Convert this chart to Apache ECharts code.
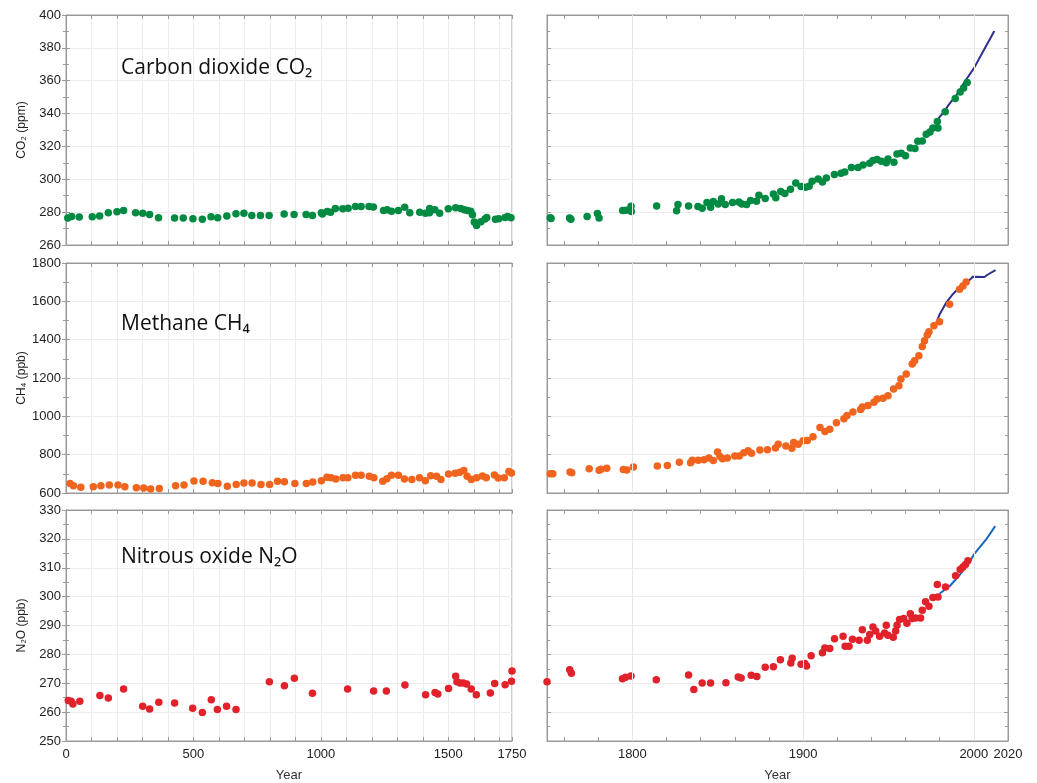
<!DOCTYPE html>
<html>
<head>
<meta charset="utf-8">
<script src="https://cdn.jsdelivr.net/npm/echarts@6/dist/echarts.min.js"></script>
<style>
html, body { margin: 0; padding: 0; background: #fff; }
#chart { width: 1037px; height: 783px; }
</style>
</head>
<body>
<div id="chart"></div>
<script>
// ice core / firn samples, year 0 - 1750  [year, value]
var co2Early = [[7,276.4],[22,277.4],[52,277],[103,277.2],[132,277.6],[166,279.6],[200,280.2],[226,281],
  [273,279.6],[301,279.4],[328,278.6],[363,276.6],[426,276.4],[460,276.4],[498,276],[535,275.6],[569,277.2],
  [595,276.6],[631,277.6],[667,279],[698,279.4],[729,278],[763,278],[797,278],[856,278.8],[895,278.6],
  [942,278.6],[967,278],[1002,279.6],[1006,278.8],[1025,280.4],[1038,280],[1057,282.2],[1086,282],
  [1107,282.4],[1136,283.4],[1158,283.4],[1189,283.4],[1206,283.2],[1246,281],[1260,281.4],[1277,280.6],
  [1304,281],[1329,283],[1349,279.6],[1388,280],[1410,279.4],[1426,279.6],[1427,282.2],[1447,281.4],
  [1466,279.4],[1500,282],[1529,282.6],[1549,282.2],[1563,281.4],[1575,281],[1588,280.6],[1595,278.4],
  [1602,274],[1611,271.8],[1628,274.2],[1644,275.8],[1651,276.8],[1685,275.6],[1698,276],[1723,276.8],
  [1733,277.4],[1746,276.6]];
var co2Late = [[1751.9,276.6],[1752.4,276.2],[1763.2,276.4],[1764,275.7],[1773.5,277.4],[1779.5,279.2],
  [1780.5,276.4],[1794.3,281],[1796.3,281.2],[1799.2,283.6],[1799.4,280.4],[1814.2,283.8],[1825.9,280.8],
  [1826.7,284.7],[1832.9,283.8],[1838.4,283.4],[1840.9,282.4],[1843.7,285.9],[1845.8,283],[1847.4,286.5],
  [1850.3,285],[1852.2,288.1],[1854.4,284.7],[1858.7,285.9],[1862.4,286.1],[1864.1,285],[1866.9,284.7],
  [1869.2,287.1],[1872.7,286.7],[1874.1,290.3],[1877.8,288.3],[1882.6,291.1],[1884,288.7],[1886.9,292.6],
  [1889.3,291.3],[1892.6,294],[1895.7,297.8],[1898.8,295.6],[1901.4,295.2],[1903.5,295.8],[1905.3,298.8],
  [1908.8,300.2],[1911.3,298.4],[1913.6,300.8],[1918.3,302.9],[1922.2,303.7],[1924.4,304.5],[1928.3,307.1],
  [1932.2,307.1],[1935.1,308.7],[1939,309.8],[1940.9,311.4],[1943.3,312],[1945.8,311],[1948.7,310],
  [1949.7,312.4],[1953.2,310.4],[1955,315.4],[1957.5,315.8],[1960,314.4],[1962.8,319],[1965.5,318.8],
  [1967.2,323.1],[1969.8,323.3],[1972.1,327.4],[1974.3,328.8],[1976,331.2],[1978.6,335.1],[1979,331.2],
  [1983.2,341.1],[1989.1,349.2],[1992,353.1],[1994,355.5],[1996.1,358.9]];
var co2Direct = [[1978,334.5],[1980,338],[1983,341.7],[1985,345],[1990,351.5],[1995,360],[2000,367.5],
  [2005,377],[2010,386.5],[2012,390.3]];

var ch4Early = [[16,650],[29,638],[58,630],[107,633],[137,638],[170,642],[204,642],[231,633],[276,628],
  [305,626],[332,621],[366,623],[430,638],[463,642],[502,663],[538,661],[574,654],[596,649],[633,635],
  [668,645],[698,652],[730,652],[765,645],[799,645],[830,661],[857,659],[898,650],[943,650],[968,657],
  [1002,664],[1024,682],[1040,680],[1059,673],[1087,680],[1106,680],[1136,692],[1158,692],[1190,687],
  [1208,680],[1243,661],[1259,675],[1277,692],[1304,692],[1328,673],[1357,670],[1387,680],[1410,664],
  [1431,690],[1454,687],[1471,671],[1501,699],[1527,703],[1545,708],[1561,717],[1574,687],[1590,671],
  [1611,680],[1634,689],[1649,680],[1681,694],[1696,678],[1720,680],[1738,712],[1748,705]];
var ch4Late = [[1751.9,700],[1753.4,701],[1763.5,710],[1764.5,706],[1774.7,726],[1780.5,719],[1781.7,724],
  [1785,729],[1794.7,722],[1796.7,720],[1800.6,736],[1814.6,741],[1820.5,743],[1827.5,760],[1834.1,758],
  [1835.1,771],[1838.6,771],[1841.9,774],[1844.8,783],[1847.4,769],[1849.9,814],[1851.3,791],[1852.8,779],
  [1855.6,783],[1860,793],[1862.6,793],[1865.3,810],[1867.8,821],[1869.8,807],[1874.7,824],[1879.1,826],
  [1883.8,835],[1885.4,855],[1889.9,845],[1893.4,833],[1894.5,864],[1897.1,855],[1900,873],[1902.5,874],
  [1905.8,894],[1909.9,942],[1912.8,921],[1915.6,932],[1919.5,966],[1923.9,987],[1925.7,1004],[1929.2,1022],
  [1933.7,1036],[1934.7,1049],[1938,1056],[1941.5,1074],[1943.3,1091],[1946.8,1094],[1949.7,1108],
  [1953,1143],[1956.1,1160],[1957.3,1195],[1960.4,1221],[1963.9,1273],[1965.3,1290],[1967.8,1316],
  [1969.8,1365],[1971.1,1394],[1972.7,1424],[1973.7,1441],[1976.6,1472],[1979.9,1493],[1985.8,1585],
  [1991.6,1663],[1993.6,1680],[1995.5,1701]];
var ch4Direct = [[1978,1489],[1980,1533],[1983.8,1593],[1987.7,1637],[1992.6,1683],[1997.5,1711],
  [1999.4,1728],[2006.2,1727],[2008.2,1740],[2012.7,1763]];

var n2oEarly = [[9,264],[20,263.8],[27,262.8],[54,263.8],[133,265.8],[166,264.9],[226,268],[301,262],
  [328,261.1],[364,263.4],[426,263.2],[497,261.3],[535,259.9],[570,264.3],[594,260.9],[630,262],
  [667,260.9],[798,270.5],[857,269.1],[896,271.7],[967,266.5],[1105,268],[1207,267.3],[1257,267.3],
  [1330,269.4],[1411,266],[1448,266.8],[1459,266.3],[1501,268.2],[1529,272.4],[1534,270.5],[1546,270.1],
  [1559,270.1],[1572,269.7],[1590,268],[1610,266],[1665,266.6],[1682,269.9],[1723,269.5],[1748,270.7],
  [1750,274.2]];
var n2oLate = [[1750,270.5],[1763.3,274.7],[1764.3,273.5],[1794.2,271.6],[1796.1,272.1],[1799.2,272.5],
  [1814,271.2],[1832.9,272.9],[1836,267.8],[1840.9,270.1],[1845.8,270.1],[1854.8,270.2],[1862,272.2],
  [1863.7,271.8],[1869.6,272.8],[1872.9,272.3],[1877.8,275.5],[1882.6,275.7],[1886.7,278.1],[1892.8,277],
  [1893.6,278.7],[1898.8,276.6],[1901,276.8],[1902,276],[1904.7,279.5],[1911.3,280.6],[1912.7,282.2],
  [1915.6,282],[1918.4,285.4],[1923.4,286.3],[1924.6,282.8],[1926.9,282.8],[1928.9,285.2],[1932.8,284.9],
  [1934.7,288.5],[1937.6,284.9],[1939,286.9],[1940.9,289.5],[1942.5,288.1],[1944.8,286.3],[1947.7,287.4],
  [1948.7,290.1],[1949.7,286.6],[1952.8,285.9],[1954.2,288.1],[1955,290.1],[1956.5,292.1],[1958.9,292.4],
  [1960.8,290.8],[1962.8,294.1],[1963.9,292.4],[1965.9,292.6],[1968.8,292.6],[1969.8,295.3],[1971.7,298.2],
  [1973.7,296.7],[1976,299.7],[1978.6,304.2],[1979,299.9],[1983.4,303.3],[1989.3,307.2],[1992,309.4],
  [1993.6,310.3],[1995.1,311.1],[1996.5,312.4]];
var n2oDirect = [[1980,301.1],[1985.8,303.6],[1991.6,307.4],[1997.5,312],[2000.4,314.9],[2007.2,319.8],
  [2012.5,324.4]];

// axis ticks / labels
var leftYearLabels = [0, 500, 1000, 1500, 1750];
var rightYearLabels = [1800, 1900, 2000, 2020];
var rightYearTicks = [1760, 1780, 1800, 1820, 1840, 1860, 1880, 1900, 1920, 1940, 1960, 1980, 2000, 2020];
var rightYearGrid = [1800, 1900, 2000];

var gases = [
  { title: 'Carbon dioxide CO\u2082', yName: 'CO\u2082 (ppm)', min: 260, max: 400, step: 20,
    early: co2Early, late: co2Late, direct: co2Direct, dot: '#008a42', line: '#2e2f8f', titleTop: 58 },
  { title: 'Methane CH\u2084', yName: 'CH\u2084 (ppb)', min: 600, max: 1800, step: 200,
    early: ch4Early, late: ch4Late, direct: ch4Direct, dot: '#f0641e', line: '#2e2f8f', titleTop: 314 },
  { title: 'Nitrous oxide N\u2082O', yName: 'N\u2082O (ppb)', min: 250, max: 330, step: 10,
    early: n2oEarly, late: n2oLate, direct: n2oDirect, dot: '#e1222a', line: '#1767c0', titleTop: 547 }
];

var rowTop = [15, 263, 510];
var rowH = [230, 230, 231];
var colLeft = [66, 547];
var colW = [446, 461];

var frame = '#9a9a9a';
var labelFont = { color: '#222', fontSize: 13, fontFamily: 'Liberation Sans, Arial, sans-serif' };
var plain = function (v) { return String(v); };

var grids = [], xBottom = [], xTop = [], yLeft = [], yRight = [], series = [], titles = [];

gases.forEach(function (gas, r) {
  titles.push({
    text: gas.title, left: 121, top: gas.titleTop, padding: 0,
    textStyle: { fontSize: 21, fontWeight: 'normal', color: '#111', fontFamily: 'Open Sans, Noto Sans, sans-serif' }
  });
  for (var c = 0; c < 2; c++) {
    var g = r * 2 + c;
    grids.push({ left: colLeft[c], top: rowTop[r], width: colW[c], height: rowH[r],
      show: true, borderColor: frame, borderWidth: 1 });

    var last = r === 2;
    var xb = {
      type: 'value', gridIndex: g, position: 'bottom',
      axisLine: { show: true, onZero: false, lineStyle: { color: frame } },
      axisTick: { show: true, inside: true, length: 4, lineStyle: { color: frame } },
      name: last ? 'Year' : '', nameLocation: 'middle', nameGap: 28,
      nameTextStyle: { color: '#333', fontSize: 13, fontFamily: 'Liberation Sans, Arial, sans-serif' }
    };
    var xt = {
      type: 'value', gridIndex: g, position: 'top',
      axisLine: { show: true, onZero: false, lineStyle: { color: frame } },
      axisLabel: { show: false }, splitLine: { show: false },
      axisTick: { show: true, inside: true, length: 4, lineStyle: { color: frame } }
    };
    if (c === 0) {
      xb.min = xt.min = 0; xb.max = xt.max = 1750; xb.interval = xt.interval = 100;
      xb.axisLabel = Object.assign({ show: last, margin: 7,
        formatter: function (v) { return leftYearLabels.indexOf(v) >= 0 ? String(v) : ''; } }, labelFont);
      xb.splitLine = { show: true, lineStyle: { color: '#ececec' } };
    } else {
      xb.min = xt.min = 1750; xb.max = xt.max = 2020;
      xb.axisTick.customValues = rightYearTicks;
      xt.axisTick.customValues = rightYearTicks;
      xb.axisLabel = Object.assign({ show: last, margin: 7, customValues: rightYearLabels, formatter: plain }, labelFont);
      xb.splitLine = { show: false };
    }
    xBottom.push(xb); xTop.push(xt);

    yLeft.push({
      type: 'value', gridIndex: g, position: 'left', min: gas.min, max: gas.max, interval: gas.step,
      axisLine: { show: true, lineStyle: { color: frame } },
      axisTick: { show: true, inside: true, length: 4, lineStyle: { color: frame } },
      minorTick: { show: true, splitNumber: 2, length: 3, lineStyle: { color: frame } },
      axisLabel: Object.assign({ show: c === 0, margin: 5, formatter: plain }, labelFont),
      splitLine: { show: true, lineStyle: { color: '#ececec' } },
      name: c === 0 ? gas.yName : '', nameLocation: 'middle', nameGap: 38, nameRotate: 90,
      nameTextStyle: { color: '#222', fontSize: 12, fontFamily: 'Liberation Sans, Arial, sans-serif' }
    });
    yRight.push({
      type: 'value', gridIndex: g, position: 'right', min: gas.min, max: gas.max, interval: gas.step,
      axisLine: { show: true, lineStyle: { color: frame } },
      axisTick: { show: true, inside: true, length: 4, lineStyle: { color: frame } },
      minorTick: { show: true, splitNumber: 2, length: 3, lineStyle: { color: frame } },
      axisLabel: { show: false }, splitLine: { show: false }
    });
  }

  var gl = r * 2, gr = r * 2 + 1;
  // vertical grid lines of the right panel
  series.push({
    type: 'line', xAxisIndex: gr, yAxisIndex: gr, data: [], z: 1, silent: true,
    markLine: { silent: true, symbol: 'none', label: { show: false }, animation: false,
      lineStyle: { color: '#e6e6e6', type: 'solid', width: 1 },
      data: rightYearGrid.map(function (y) { return { xAxis: y }; }) }
  });
  series.push({ type: 'scatter', xAxisIndex: gl, yAxisIndex: gl, data: gas.early,
    symbolSize: 7.5, itemStyle: { color: gas.dot, opacity: 1 }, z: 3 });
  series.push({ type: 'line', xAxisIndex: gr, yAxisIndex: gr, data: gas.direct, showSymbol: false,
    lineStyle: { color: gas.line, width: 2 }, z: 2 });
  series.push({ type: 'scatter', xAxisIndex: gr, yAxisIndex: gr, data: gas.late,
    symbolSize: 7.5, itemStyle: { color: gas.dot, opacity: 1 }, z: 3 });
});

var myChart = echarts.init(document.getElementById('chart'));
myChart.setOption({
  animation: false,
  title: titles,
  grid: grids,
  xAxis: xBottom.concat(xTop),
  yAxis: yLeft.concat(yRight),
  series: series
});
</script>
</body>
</html>
